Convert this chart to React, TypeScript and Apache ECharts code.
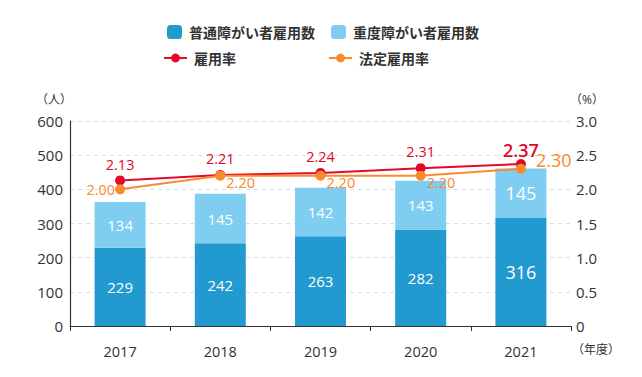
import React, { useEffect, useRef } from "react";
import * as echarts from "echarts";

const years = ["2017", "2018", "2019", "2020", "2021"];
const normalEmp = [229, 242, 263, 282, 316];
const severeEmp = [134, 145, 142, 143, 145];
const empRate = [2.13, 2.21, 2.24, 2.31, 2.37];
const legalRate = [2.0, 2.2, 2.2, 2.2, 2.3];
const leftTicks = { min: 0, max: 600, interval: 100 };
const rightTicks = { min: 0, max: 3, interval: 0.5 };

const FONT = "'Open Sans', 'Noto Sans CJK JP', sans-serif";
const DARK = "#2299cf";
const LIGHT = "#80cdf2";
const RED = "#e3072a";
const ORANGE = "#f98a2e";

export default function App() {
  const ref = useRef<HTMLDivElement>(null);
  useEffect(() => {
    if (!ref.current) return;
    const chart = echarts.init(ref.current, undefined, { renderer: "svg" });
    const last = years.length - 1;
    const legendText = { fontFamily: FONT, fontSize: 14, color: "#333", fontWeight: "bold", padding: [0, 0, 0, 2] };
    chart.setOption({
      animation: false,
      textStyle: { fontFamily: FONT },
      legend: [
        { data: ["普通障がい者雇用数"], left: 167, top: 25, itemWidth: 15, itemHeight: 14, textStyle: legendText, padding: 0 },
        { data: ["重度障がい者雇用数"], left: 331, top: 25, itemWidth: 15, itemHeight: 14, textStyle: legendText, padding: 0 },
        { data: ["雇用率"], left: 163, top: 51, itemWidth: 23, itemHeight: 11, textStyle: legendText, padding: 0 },
        { data: ["法定雇用率"], left: 328, top: 51, itemWidth: 23, itemHeight: 11, textStyle: legendText, padding: 0 },
      ],
      grid: { left: 70, right: 71, top: 121, bottom: 51, containLabel: false },
      graphic: [
        { type: "text", left: 36, top: 93, style: { text: "（人）", fontFamily: FONT, fontSize: 12, fill: "#333" } },
        { type: "text", left: 570, top: 93, style: { text: "（%）", fontFamily: FONT, fontSize: 12, fill: "#333" } },
        { type: "text", left: 572, top: 343, style: { text: "（年度）", fontFamily: FONT, fontSize: 12, fill: "#333" } },
      ],
      xAxis: {
        type: "category",
        data: years,
        axisLine: { lineStyle: { color: "#333", width: 1.2 } },
        axisTick: { show: true, length: 5, lineStyle: { color: "#333" } },
        axisLabel: { color: "#333", fontSize: 14.5, margin: 18, fontFamily: FONT },
      },
      yAxis: [
        {
          type: "value",
          ...leftTicks,
          axisLine: { show: true, lineStyle: { color: "#333", width: 1.2 } },
          axisTick: { show: false },
          axisLabel: { color: "#333", fontSize: 15, margin: 7, fontFamily: FONT },
          splitLine: { lineStyle: { color: "#cfdfe8", type: [4, 4] } },
        },
        {
          type: "value",
          ...rightTicks,
          axisLine: { show: false },
          axisTick: { show: false },
          axisLabel: {
            color: "#333",
            fontSize: 15,
            margin: 5,
            fontFamily: FONT,
            formatter: (v: number) => (v === 0 ? "0" : v.toFixed(1)),
          },
          splitLine: { show: false },
        },
      ],
      series: [
        {
          name: "普通障がい者雇用数",
          type: "bar",
          stack: "emp",
          barWidth: 51,
          itemStyle: { color: DARK },
          label: { show: true, position: "inside", color: "#fff", fontSize: 15, fontFamily: FONT },
          data: normalEmp.map((v, i) => (i === last ? { value: v, label: { fontSize: 18 } } : v)),
        },
        {
          name: "重度障がい者雇用数",
          type: "bar",
          stack: "emp",
          barWidth: 51,
          itemStyle: { color: LIGHT },
          label: { show: true, position: "inside", color: "#fff", fontSize: 15, fontFamily: FONT },
          data: severeEmp.map((v, i) => (i === last ? { value: v, label: { fontSize: 18 } } : v)),
        },
        {
          name: "雇用率",
          type: "line",
          yAxisIndex: 1,
          symbol: "circle",
          symbolSize: 10,
          color: RED,
          lineStyle: { color: RED, width: 2 },
          itemStyle: { color: RED },
          label: {
            show: true,
            position: "top",
            distance: 4,
            color: RED,
            fontSize: 14.5,
            fontFamily: FONT,
            formatter: (p: any) => Number(p.value).toFixed(2),
          },
          data: empRate.map((v, i) =>
            i === last ? { value: v, label: { fontSize: 18, fontWeight: 600, distance: 0 } } : v
          ),
          z: 3,
        },
        {
          name: "法定雇用率",
          type: "line",
          yAxisIndex: 1,
          symbol: "circle",
          symbolSize: 10,
          color: ORANGE,
          lineStyle: { color: ORANGE, width: 2 },
          itemStyle: { color: ORANGE },
          label: {
            show: true,
            position: "right",
            distance: 1,
            offset: [0, 7],
            color: ORANGE,
            fontSize: 14.5,
            fontFamily: FONT,
            formatter: (p: any) => Number(p.value).toFixed(2),
          },
          data: legalRate.map((v, i) => {
            if (i === 0) return { value: v, label: { position: "left", distance: 0, offset: [0, 0] } };
            if (i === last) return { value: v, label: { fontSize: 18, distance: 10, offset: [0, -9] } };
            return v;
          }),
          z: 4,
        },
      ],
    });
    return () => chart.dispose();
  }, []);
  return <div ref={ref} style={{ width: 642, height: 377, position: "absolute", left: 0, top: 0 }} />;
}
